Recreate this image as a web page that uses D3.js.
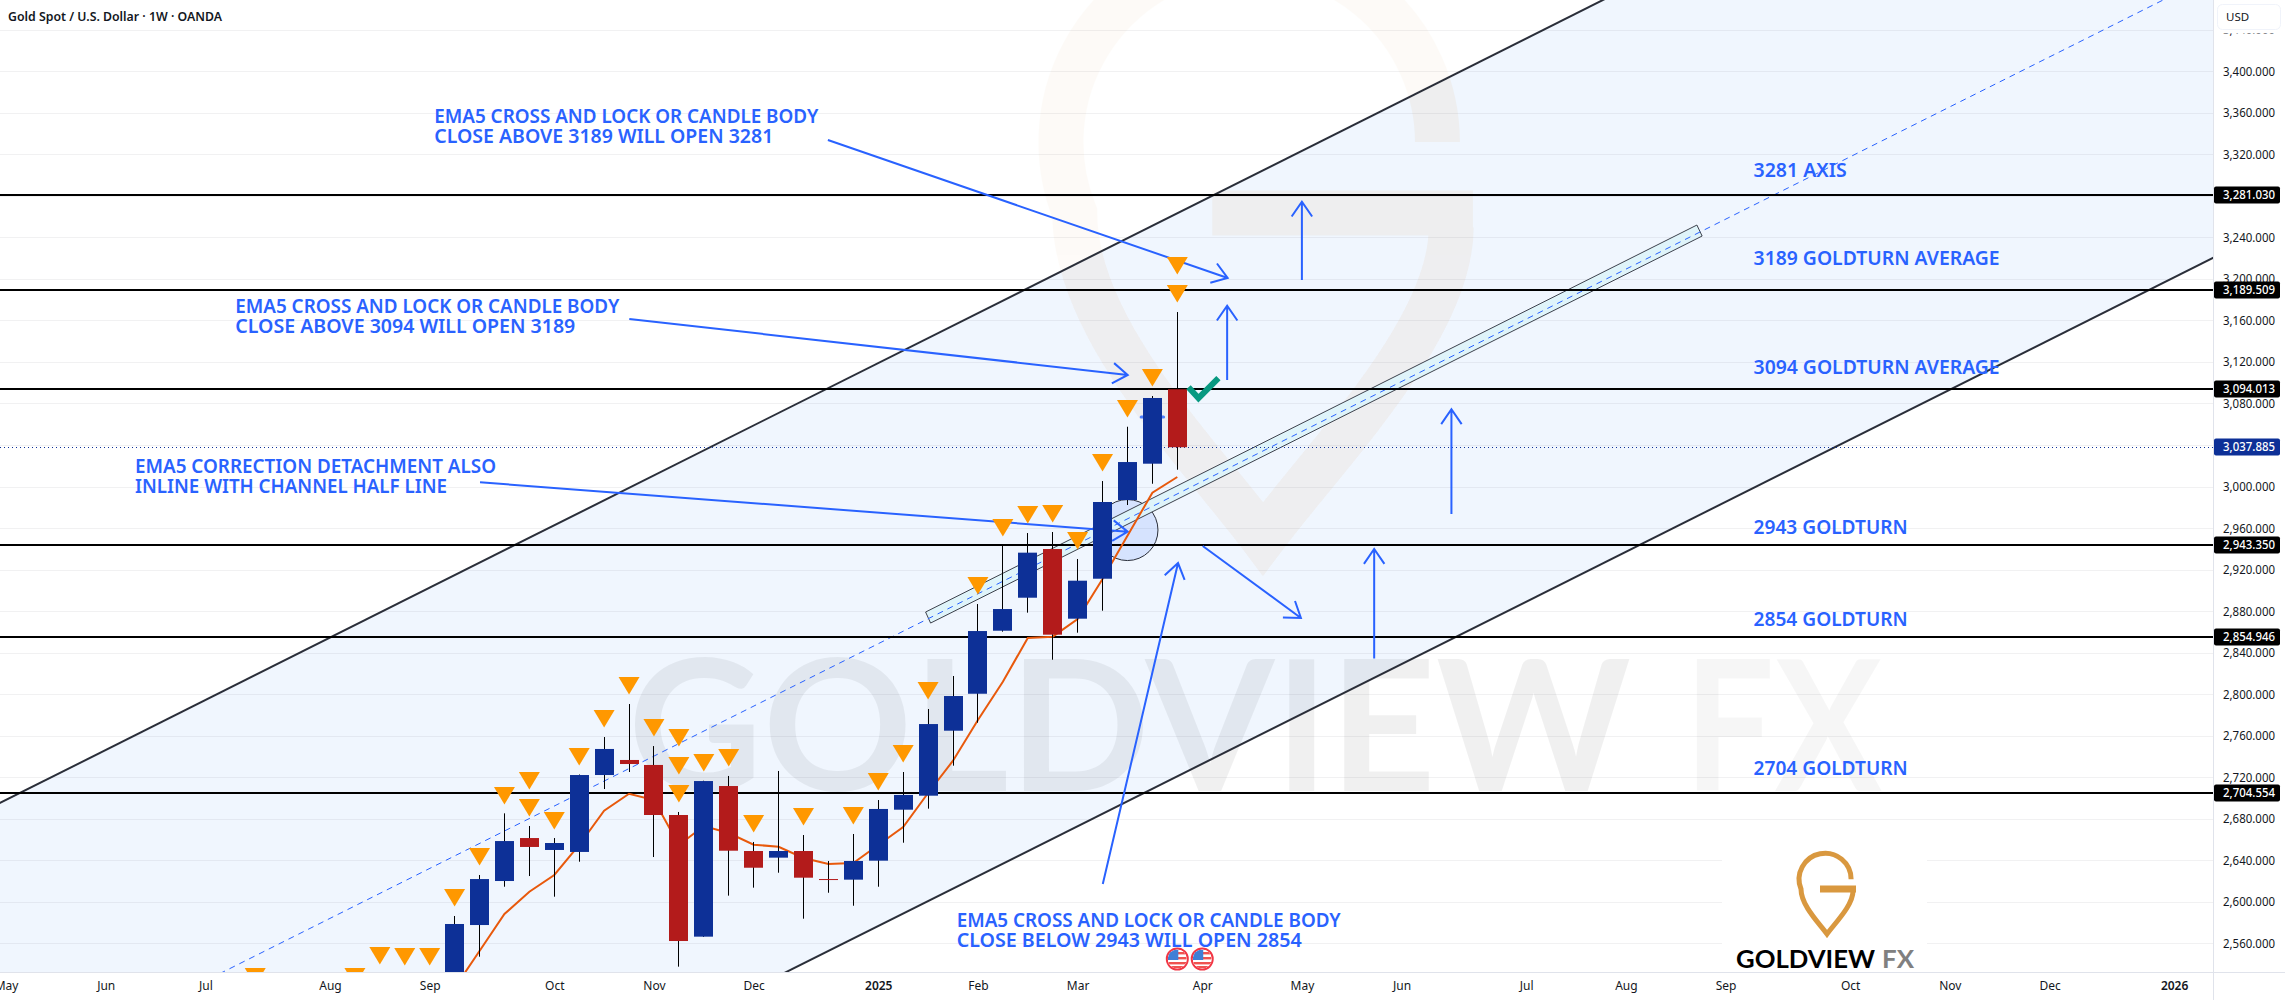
<!DOCTYPE html>
<html>
<head>
<meta charset="utf-8">
<title>Gold Spot / U.S. Dollar</title>
<script src="https://cdn.jsdelivr.net/npm/d3@7"></script>
<style>
html,body{margin:0;padding:0;background:#fff}
svg{display:block}
</style>
</head>
<body>
<svg id="chart" width="2285" height="1000"></svg>
<script>
// Weekly candles: weeks are counted relative to the latest bar (week 0).
const weeks  = [-29,-28,-27,-26,-25,-24,-23,-22,-21,-20,-19,-18,-17,-16,-15,-14,-13,-12,-11,-10,-9,-8,-7,-6,-5,-4,-3,-2,-1,0];
const opens  = [2497,2577.6,2620,2661.4,2649.9,2648,2722.1,2736.6,2731.8,2683.6,2566.4,2711.5,2648.9,2642.5,2648.9,2621.9,2621.3,2639.6,2688.7,2702.2,2764.8,2800.4,2861.1,2892.9,2939.8,2872.7,2911.2,2987,3022,3093.7];
const highs  = [2586.3,2625.8,2685.2,2673,2661.4,2722.6,2758.7,2790.5,2750,2686.5,2716.6,2721.2,2657.6,2726,2664.3,2639.3,2665.3,2698,2725,2785.7,2817.5,2886.8,2943.7,2955.2,2956.2,2930.2,3005.3,3057.6,3087.2,3168.1];
const lows   = [2485,2547.1,2614.5,2624.8,2604.9,2638.6,2708.6,2725,2643.1,2537.5,2566.2,2605.9,2613.6,2628,2583.7,2608.7,2596.2,2614.5,2656.9,2689.7,2731.1,2772.5,2860.2,2878.5,2833.2,2859.2,2880.4,2982.2,3002.7,3016.2];
const closes = [2578.6,2621.9,2658.5,2652.8,2656.6,2722.1,2747.2,2732.7,2683.6,2562.2,2716.3,2649.2,2632.8,2648.9,2623.2,2621.2,2639.3,2689.4,2702.9,2771.2,2798.2,2860.8,2882,2936.3,2857.3,2909.3,2985.1,3023.6,3085.3,3037.885];
const ema5   = [2517,2552.6,2588.2,2609.7,2625.8,2654.7,2687.7,2704.1,2698,2654.7,2673,2666.2,2655,2653,2642.2,2636.4,2637.4,2654.7,2672,2704.8,2735.9,2775.1,2812,2854.1,2855.4,2872.4,2910.9,2952.6,2994,3009.2];

// Fractal markers: the week and the price level of each triangle's top edge.
const markerWeeks  = [-37,-33,-32,-31,-30,-29,-28,-27,-26,-26,-25,-24,-23,-22,-21,-20,-20,-20,-19,-18,-17,-15,-13,-12,-11,-10,-8,-7,-6,-5,-4,-3,-2,-1,0,0];
const markerPrices = [2536.2,2536.2,2556.4,2555.5,2555.5,2612.3,2651.8,2710.6,2725,2699,2686.5,2748.1,2784.7,2816.5,2776,2766.4,2739.4,2712.5,2742.4,2747.2,2683.6,2690.3,2691.3,2724,2751,2811.7,2912.9,2968.8,2981.3,2982.2,2956.2,3031.3,3083.3,3113.2,3194.1,3221.1];

// Price scale and time scale labels.
const priceTicks = d3.range(2560, 3441, 40);
const monthWeeks = [-47,-43,-39,-34,-30,-25,-21,-17,-12,-8,-4,1,5,9,14,18,22,27,31,35,40];
const monthLabels = ["May","Jun","Jul","Aug","Sep","Oct","Nov","Dec","2025","Feb","Mar","Apr","May","Jun","Jul","Aug","Sep","Oct","Nov","Dec","2026"];
const yearLabels = ["2025","2026"];

// Horizontal levels and the last traded price.
const levels = [3281.03,3189.509,3094.013,2943.35,2854.946,2704.554];
const lastPrice = 3037.885;

// Parallel channel anchors (week, price).
const upperWeeks = [-47.24,17.08],  upperPrices = [2695.2,3468.7];
const lowerWeeks = [-15.67,41.56],  lowerPrices = [2532.6,3220.2];
const midWeeks   = [-38.29,39.56],  midPrices   = [2532.4,3468.7];

// Band drawn around the channel half line, and the highlighted zone.
const bandWeeks  = [-10.1,-9.9,21.06,20.85];
const bandPrices = [2879.1,2868.5,3241.3,3251.9];
const zoneWeek = -2, zonePrice = 2958.1, zoneRadius = 29.4;

// Arrows: week and price at tail, then at tip.
const arrowFromWeeks  = [-14.02,-21.99,-27.98,-2.99,1.02,5,2,11,7.9];
const arrowFromPrices = [3333.8,3161.4,3004.1,2617.1,2942.7,3199,3102.7,2973.5,2834.3];
const arrowToWeeks    = [2.02,-1.99,-1.99,0.03,4.96,5,2,11,7.9];
const arrowToPrices   = [3200.9,3107.5,2956.5,2926.3,2873.4,3274.4,3174.2,3074.4,2939.8];

// Text notes with the position and fitted width of each line.
const noteLines = [
  "EMA5 CROSS AND LOCK OR CANDLE BODY","CLOSE ABOVE 3189 WILL OPEN 3281",
  "EMA5 CROSS AND LOCK OR CANDLE BODY","CLOSE ABOVE 3094 WILL OPEN 3189",
  "EMA5 CORRECTION DETACHMENT ALSO","INLINE WITH CHANNEL HALF LINE",
  "EMA5 CROSS AND LOCK OR CANDLE BODY","CLOSE BELOW 2943 WILL OPEN 2854",
  "3281 AXIS","3189 GOLDTURN AVERAGE","3094 GOLDTURN AVERAGE","2943 GOLDTURN","2854 GOLDTURN","2704 GOLDTURN"
];
const noteX = [434.3,434.3,235.3,235.3,135,135,956.7,956.7,1753.6,1753.6,1753.6,1753.6,1753.6,1753.6];
const noteY = [122.7,142.7,312.7,332.7,472.7,492.7,926.7,946.7,177,265,374,534,626,775];
const noteW = [384,339,384,340,361,312,384,345,93,246,246,154,154,154];

const BLUE = "#2962ff", BULL = "#0d3097", BEAR = "#b31b1b", INK = "#131722", LINE = "#2a2e39";
const plotW = 2213, plotH = 972;

const svg = d3.select("#chart");
const x = d3.scaleLinear().domain([-29, 0]).range([454.6, 1177.3]);
const y = d3.scaleLinear().domain([2560, 3400]).range([943.3, 71.3]);
const fmt = d3.format(",.3f");
const sans = "'Noto Sans', 'Open Sans', sans-serif";

svg.append("rect").attr("width", 2285).attr("height", 1000).attr("fill", "#fff");
svg.append("clipPath").attr("id", "plot").append("rect").attr("width", plotW).attr("height", plotH);
const plot = svg.append("g").attr("clip-path", "url(#plot)");

// Channel lines extend past their anchors in both directions.
const upperAt = d3.scaleLinear().domain(upperWeeks).range(upperPrices);
const lowerAt = d3.scaleLinear().domain(lowerWeeks).range(lowerPrices);
const midAt   = d3.scaleLinear().domain(midWeeks).range(midPrices);
const spanL = -70, spanR = 70;
const linePath = d3.line().x(d => x(d[0])).y(d => y(d[1]));
const channelOutline = linePath([[spanL, upperAt(spanL)], [spanR, upperAt(spanR)], [spanR, lowerAt(spanR)], [spanL, lowerAt(spanL)]]) + "Z";

plot.append("path").attr("d", channelOutline).attr("fill", "#f0f6fe");
svg.append("clipPath").attr("id", "channel").append("path").attr("d", channelOutline);

// Pale brand mark behind the price action: fainter on white, a touch stronger on the channel fill.
const pinPath = "M53.1,19.2 A26,26 0 1 0 3,29 C3,45 20,62 29,74 C38,62 55,45 55,31";
const drawPin = (alpha, inChannel) => {
  const holder = plot.append("g");
  if (inChannel) holder.attr("clip-path", "url(#channel)");
  const g = holder.append("g").attr("opacity", alpha).attr("transform", "translate(1053,3) scale(7.24)")
    .attr("fill", "none").attr("stroke", "#d9963c").attr("stroke-width", 6.2);
  g.append("path").attr("d", pinPath);
  g.append("path").attr("d", "M22,29 L58,29");
};
drawPin(0.035, false);
drawPin(0.035, true);

const wmStyle = sel => sel.attr("font-family", "Lato, sans-serif").attr("font-weight", 700)
  .attr("font-size", 183).attr("lengthAdjust", "spacingAndGlyphs");
plot.append("text").text("GOLDVIEW").call(wmStyle).attr("x", 628).attr("y", 790.7)
  .attr("textLength", 1003).attr("fill", "#000").attr("fill-opacity", 0.06);
plot.append("text").text("FX").call(wmStyle).attr("x", 1684).attr("y", 790.7)
  .attr("textLength", 198).attr("fill", "#000").attr("fill-opacity", 0.035);

// Gridlines.
plot.append("g").selectAll("line").data(priceTicks).join("line")
  .attr("x1", 0).attr("x2", plotW)
  .attr("y1", d => Math.round(y(d)) + 0.5).attr("y2", d => Math.round(y(d)) + 0.5)
  .attr("stroke", "#2a2e39").attr("stroke-opacity", 0.065);

// White plate carrying the corner logo.
plot.append("rect").attr("x", 1722).attr("y", 845).attr("width", 205).attr("height", 127).attr("fill", "#fff");

// Highlighted zone and half-line band.
plot.append("circle").attr("cx", x(zoneWeek)).attr("cy", y(zonePrice))
  .attr("r", y(zonePrice - zoneRadius) - y(zonePrice))
  .attr("fill", BLUE).attr("fill-opacity", 0.13).attr("stroke", LINE).attr("stroke-width", 1);
plot.append("path")
  .attr("d", linePath(bandWeeks.map((w, i) => [w, bandPrices[i]])) + "Z")
  .attr("fill", "#ddf3fa").attr("fill-opacity", 0.95).attr("stroke", LINE).attr("stroke-opacity", 0.9).attr("stroke-width", 1);

// Channel borders and dashed half line.
plot.append("path").attr("d", linePath([[spanL, midAt(spanL)], [spanR, midAt(spanR)]]))
  .attr("fill", "none").attr("stroke", BLUE).attr("stroke-width", 1).attr("stroke-dasharray", "6 5");
[upperAt, lowerAt].forEach(at => {
  plot.append("path").attr("d", linePath([[spanL, at(spanL)], [spanR, at(spanR)]]))
    .attr("fill", "none").attr("stroke", LINE).attr("stroke-width", 2);
});

// Horizontal levels and the dotted last-price line.
plot.append("g").selectAll("line").data(levels).join("line")
  .attr("x1", 0).attr("x2", plotW)
  .attr("y1", d => Math.round(y(d))).attr("y2", d => Math.round(y(d)))
  .attr("stroke", "#000").attr("stroke-width", 2);
plot.append("line").attr("x1", 0).attr("x2", plotW)
  .attr("y1", Math.round(y(lastPrice)) + 0.5).attr("y2", Math.round(y(lastPrice)) + 0.5)
  .attr("stroke", BULL).attr("stroke-width", 1).attr("stroke-dasharray", "1 3");

// Arrows with open heads.
const arrows = plot.append("g").attr("fill", "none").attr("stroke", BLUE).attr("stroke-width", 2);
arrowFromWeeks.forEach((w, i) => {
  const x0 = x(w), y0 = y(arrowFromPrices[i]), x1 = x(arrowToWeeks[i]), y1 = y(arrowToPrices[i]);
  const a = Math.atan2(y1 - y0, x1 - x0), len = 18, spread = Math.PI / 5.2;
  const hx = s => x1 - len * Math.cos(a + s * spread), hy = s => y1 - len * Math.sin(a + s * spread);
  arrows.append("path").attr("d", `M${x0},${y0}L${x1},${y1}M${hx(1)},${hy(1)}L${x1},${y1}L${hx(-1)},${hy(-1)}`);
});
// Short tick hidden behind the week -1 candle.
arrows.append("line").attr("x1", x(-1.45)).attr("x2", x(-0.55)).attr("y1", y(3067)).attr("y2", y(3067))
  .attr("stroke-width", 3).attr("stroke", "#4d7fff").attr("stroke-linecap", "round");

// EMA line.
plot.append("path").attr("d", linePath(weeks.map((w, i) => [w, ema5[i]])))
  .attr("fill", "none").attr("stroke", "#e8590c").attr("stroke-width", 2);

// Candles.
const barW = 19;
const candle = plot.append("g").selectAll("g").data(weeks).join("g");
candle.append("line")
  .attr("x1", d => Math.floor(x(d)) + 0.5).attr("x2", d => Math.floor(x(d)) + 0.5)
  .attr("y1", (d, i) => y(highs[i])).attr("y2", (d, i) => y(lows[i]))
  .attr("stroke", "#000").attr("stroke-width", 1);
candle.append("rect")
  .attr("x", d => Math.floor(x(d)) + 0.5 - barW / 2)
  .attr("width", barW)
  .attr("y", (d, i) => y(Math.max(opens[i], closes[i])))
  .attr("height", (d, i) => Math.max(1, Math.abs(y(opens[i]) - y(closes[i]))))
  .attr("fill", (d, i) => closes[i] >= opens[i] ? BULL : BEAR);

// Fractal markers.
plot.append("g").selectAll("path").data(markerWeeks).join("path")
  .attr("d", "M-10.5,0L10.5,0L0,17.5Z")
  .attr("transform", (d, i) => `translate(${x(d)},${y(markerPrices[i])})`)
  .attr("fill", "#ff9800");

// Check mark beside the latest candle.
plot.append("path")
  .attr("d", linePath([[0.45, 3095.7], [0.85, 3085.1], [1.65, 3104.4]]))
  .attr("fill", "none").attr("stroke", "#089981").attr("stroke-width", 6);

// Notes.
plot.append("g").selectAll("text").data(noteLines).join("text")
  .text(d => d)
  .attr("x", (d, i) => noteX[i]).attr("y", (d, i) => noteY[i])
  .attr("textLength", (d, i) => noteW[i]).attr("lengthAdjust", "spacingAndGlyphs")
  .attr("font-family", sans).attr("font-size", 19).attr("font-weight", 600).attr("fill", BLUE);

// Economic event flags above the time scale.
[0, 1].forEach((w, n) => {
  const cx = x(w), cy = 959, r = 9.5, id = "flag" + n;
  const f = plot.append("g");
  svg.append("clipPath").attr("id", id).append("circle").attr("cx", cx).attr("cy", cy).attr("r", r);
  f.append("circle").attr("cx", cx).attr("cy", cy).attr("r", r + 1).attr("fill", "#fff").attr("stroke", "#f23645").attr("stroke-width", 2);
  const g = f.append("g").attr("clip-path", `url(#${id})`);
  g.append("rect").attr("x", cx - r).attr("y", cy - r).attr("width", 2 * r).attr("height", 2 * r).attr("fill", "#fff");
  [-7, -2, 3, 7].forEach(o => g.append("rect").attr("x", cx - r).attr("y", cy + o).attr("width", 2 * r).attr("height", 2.4).attr("fill", "#ef5350"));
  g.append("rect").attr("x", cx - r).attr("y", cy - r).attr("width", r + 1).attr("height", r + 1).attr("fill", "#3f7fd6");
});

// Corner logo.
const pin = plot.append("g").attr("transform", "translate(1798,860)").attr("fill", "none").attr("stroke", "#d9983f").attr("stroke-width", 5);
pin.append("path").attr("d", pinPath);
pin.append("path").attr("d", "M22,29 L58,29").attr("stroke-width", 7);
const logoStyle = s => s.attr("font-family", "Lato, sans-serif").attr("font-weight", 700).attr("font-size", 25)
  .attr("y", 968).attr("lengthAdjust", "spacingAndGlyphs");
plot.append("text").text("GOLDVIEW").call(logoStyle).attr("x", 1736).attr("textLength", 139).attr("fill", "#000");
plot.append("text").text("FX").call(logoStyle).attr("x", 1882).attr("textLength", 32).attr("fill", "#808080");

// Scale frames.
svg.append("rect").attr("x", plotW).attr("width", 2285 - plotW).attr("height", 1000).attr("fill", "#fff");
svg.append("rect").attr("y", plotH).attr("width", plotW).attr("height", 1000 - plotH).attr("fill", "#fff");
svg.append("line").attr("x1", plotW + 0.5).attr("x2", plotW + 0.5).attr("y1", 0).attr("y2", 1000).attr("stroke", "#e0e3eb");
svg.append("line").attr("x1", 0).attr("x2", 2285).attr("y1", plotH + 0.5).attr("y2", plotH + 0.5).attr("stroke", "#e0e3eb");

// Price axis.
const yAxis = svg.append("g").attr("transform", `translate(${plotW},0)`)
  .call(d3.axisRight(y).tickValues(priceTicks).tickFormat(fmt).tickSize(0));
yAxis.select(".domain").remove();
yAxis.selectAll("text").attr("x", 62).attr("text-anchor", "end")
  .attr("textLength", 52).attr("lengthAdjust", "spacingAndGlyphs")
  .attr("font-family", sans).attr("font-size", 12.5).attr("fill", INK);

// Time axis.
const xAxis = svg.append("g").attr("transform", `translate(0,${plotH})`)
  .call(d3.axisBottom(x).tickValues(monthWeeks).tickFormat((d, i) => monthLabels[i]).tickSize(0));
xAxis.select(".domain").remove();
xAxis.selectAll("text").attr("y", 14).attr("dy", ".32em")
  .attr("font-family", sans).attr("font-size", 12).attr("fill", INK)
  .attr("font-weight", function () { return yearLabels.includes(this.textContent) ? 600 : 400; });

// Price tags on the axis.
const tags = [...levels.map(v => ({ v, c: "#000" })), { v: lastPrice, c: BULL }];
const tag = svg.append("g").selectAll("g").data(tags).join("g")
  .attr("transform", d => `translate(${plotW + 1},${Math.round(y(d.v))})`);
tag.append("rect").attr("y", -8.5).attr("width", 66).attr("height", 17).attr("rx", 2).attr("fill", d => d.c);
tag.append("text").text(d => fmt(d.v)).attr("x", 61).attr("y", 0).attr("dy", ".34em").attr("text-anchor", "end")
  .attr("textLength", 52).attr("lengthAdjust", "spacingAndGlyphs")
  .attr("font-family", sans).attr("font-size", 12.5).attr("font-weight", 500).attr("fill", "#fff");

// Currency button and title; the button's white backing hides the topmost price label.
svg.append("rect").attr("x", plotW + 1).attr("y", 0).attr("width", 2285 - plotW - 1).attr("height", 33.5).attr("fill", "#fff");
svg.append("rect").attr("x", 2217.5).attr("y", 4.5).attr("width", 63).attr("height", 25).attr("rx", 5)
  .attr("fill", "#fff").attr("stroke", "#f0f3fa");
svg.append("text").text("USD").attr("x", 2226).attr("y", 21).attr("font-family", sans).attr("font-size", 11.5).attr("fill", INK);
svg.append("text").text("Gold Spot / U.S. Dollar · 1W · OANDA").attr("x", 8).attr("y", 21)
  .attr("textLength", 214).attr("lengthAdjust", "spacingAndGlyphs")
  .attr("font-family", sans).attr("font-size", 13).attr("font-weight", 600).attr("fill", INK);
</script>
</body>
</html>
